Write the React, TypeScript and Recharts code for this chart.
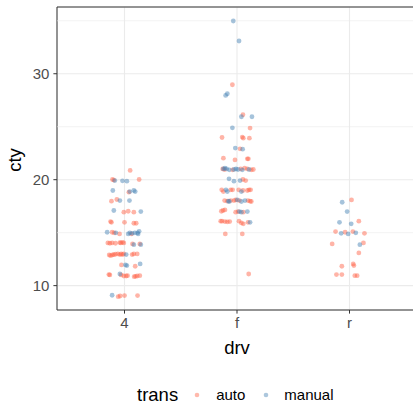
import React from "react";
import {
  ScatterChart,
  Scatter,
  XAxis,
  YAxis,
  CartesianGrid,
  ReferenceLine,
  ReferenceArea,
} from "recharts";

// categories of drv (x axis positions 1, 2, 3)
const drvLabels = ["4", "f", "r"];
const yTicks = [10, 20, 30];
const yMinor = [15, 25, 35];

// jittered points [x, cty]
const autoPoints: [number, number][] = [
  [1.05, 20.87], [0.893, 20.02], [0.905, 19.96], [1.13, 20.02], [1.039, 18.82],
  [0.884, 17.97], [0.932, 18.13], [0.994, 16.93], [1.033, 17.02], [1.083, 16.93],
  [0.876, 16.05], [0.884, 15.98], [1.0, 15.98], [1.083, 15.89], [1.104, 15.89],
  [0.89, 15.04], [0.908, 14.98], [0.956, 14.88], [1.062, 14.88],
  [0.852, 14.03], [0.87, 14.0], [0.89, 14.03], [0.92, 14.0],
  [0.959, 14.06], [0.967, 14.03], [0.982, 14.09], [0.994, 14.03],
  [1.071, 13.94], [1.136, 13.94],
  [0.864, 12.9], [0.876, 12.83], [0.893, 12.9], [0.905, 12.93], [0.92, 12.96],
  [0.941, 12.99], [0.959, 12.93], [0.97, 12.99], [0.982, 12.93], [0.994, 12.99],
  [1.068, 12.93], [1.083, 12.99], [1.113, 12.99],
  [0.973, 11.95], [1.095, 11.83],
  [0.861, 11.04], [0.87, 11.01], [0.97, 11.01],
  [0.994, 10.91], [1.015, 10.91], [1.027, 10.94],
  [1.086, 10.85], [1.098, 10.88], [1.113, 10.91], [1.136, 10.94],
  [0.944, 8.96], [0.961, 9.02], [1.0, 9.06], [1.116, 9.06],
  // f
  [1.959, 28.96], [2.053, 26.13], [2.116, 24.87], [1.867, 23.98],
  [2.047, 24.02], [2.056, 23.92], [2.11, 23.92], [2.027, 22.91],
  [1.879, 22.03], [1.982, 21.87], [2.092, 21.97], [2.101, 21.97],
  [1.873, 21.02], [1.89, 20.96], [1.961, 20.93], [2.033, 21.02],
  [2.068, 21.09], [2.092, 21.02], [2.127, 20.93], [2.145, 20.96],
  [2.053, 20.02], [2.077, 19.92],
  [1.864, 19.04], [1.879, 18.88], [1.944, 19.04], [1.961, 19.04],
  [2.015, 19.04], [2.053, 18.98], [2.092, 18.98], [2.107, 19.04], [2.121, 19.04],
  [1.89, 18.03], [1.914, 17.97], [1.944, 18.03],
  [1.973, 18.03], [1.988, 18.09], [2.021, 18.03], [2.098, 18.03], [2.116, 17.97], [2.127, 17.94],
  [1.861, 17.02], [1.876, 17.09], [1.893, 17.15],
  [1.988, 16.93], [2.009, 16.99], [2.056, 16.93],
  [1.855, 16.08], [1.867, 16.08], [1.893, 16.05], [1.914, 16.02], [1.935, 16.05],
  [2.018, 16.08], [2.039, 15.92], [2.056, 15.83], [2.098, 15.98],
  [1.896, 14.88], [2.047, 14.88], [2.104, 11.1],
  // r
  [3.018, 18.09], [3.083, 16.08],
  [2.876, 15.1], [2.961, 15.04], [3.03, 15.1], [3.133, 14.94],
  [2.846, 13.94], [3.124, 14.03], [3.083, 13.09],
  [2.932, 11.83], [3.033, 12.05], [3.039, 11.89],
  [2.884, 11.04], [2.932, 11.04], [3.047, 10.94], [3.068, 10.94],
];

const manualPoints: [number, number][] = [
  [0.914, 19.92], [0.982, 19.89], [1.021, 19.86], [0.896, 18.98], [1.047, 18.88],
  [1.083, 18.98], [1.095, 18.88], [0.959, 18.03], [1.044, 18.03], [0.905, 17.09],
  [1.145, 16.99], [0.846, 15.04], [0.923, 14.98],
  [1.033, 14.88], [1.047, 14.98], [1.068, 14.94], [1.092, 14.98],
  [1.116, 14.98], [1.121, 14.88], [1.13, 15.13],
  [1.083, 13.87], [1.145, 13.87], [1.015, 12.93],
  [1.009, 11.95], [1.021, 11.89], [1.139, 12.05], [0.959, 11.1], [0.89, 9.09],
  // f
  [1.967, 34.98], [2.018, 33.09], [1.899, 27.95], [1.914, 28.11],
  [2.039, 25.94], [2.133, 25.94], [1.959, 24.9], [1.985, 22.98], [2.05, 22.88],
  [1.879, 21.02], [1.893, 21.09], [1.908, 21.02], [1.932, 20.93],
  [1.973, 20.96], [1.991, 21.02], [2.009, 20.96], [2.047, 20.93], [2.107, 20.96],
  [1.929, 20.08], [1.973, 19.86], [2.027, 19.92],
  [1.902, 19.04], [1.914, 18.88], [2.039, 18.88],
  [1.923, 17.97], [1.932, 17.94], [2.003, 18.09], [2.039, 17.94], [2.071, 18.03],
  [2.021, 16.99], [2.039, 16.93], [2.092, 16.99], [2.116, 15.98],
  // r
  [2.935, 17.87], [2.979, 16.99], [2.911, 15.98], [3.015, 15.83],
  [2.926, 14.94], [2.988, 14.88], [3.056, 14.98], [3.092, 13.87],
];

const AUTO = "#FF6347";
const MANUAL = "#4682B4";
const FONT = "'Liberation Sans', Arial, sans-serif";

const autoData = autoPoints.map(([x, y]) => ({ x, y }));
const manualData = manualPoints.map(([x, y]) => ({ x, y }));

const dot = (color: string) => (props: any) => (
  <circle cx={props.cx} cy={props.cy} r={2.4} fill={color} fillOpacity={0.48} />
);

export default function App() {
  return (
    <div
      style={{
        position: "absolute",
        left: 0,
        top: 0,
        width: 413,
        height: 404,
        overflow: "hidden",
        background: "#fff",
        fontFamily: FONT,
      }}
    >
      <ScatterChart
        width={417}
        height={404}
        margin={{ top: 7, right: 0, left: 0, bottom: 54 }}
      >
        <CartesianGrid stroke="#EBEBEB" strokeWidth={1.1} />
        {yMinor.map((v) => (
          <ReferenceLine key={v} y={v} stroke="#EBEBEB" strokeWidth={0.6} />
        ))}
        <XAxis
          type="number"
          dataKey="x"
          domain={[0.4, 3.6]}
          ticks={[1, 2, 3]}
          allowDataOverflow
          tickFormatter={(v: number) => drvLabels[v - 1]}
          axisLine={false}
          tickLine={{ stroke: "#333333" }}
          tickSize={3.6}
          tickMargin={4}
          height={40}
          tick={{ fill: "#4D4D4D", fontSize: 15, fontFamily: FONT }}
        />
        <YAxis
          type="number"
          dataKey="y"
          domain={[7.7, 36.3]}
          ticks={yTicks}
          allowDataOverflow
          axisLine={false}
          tickLine={{ stroke: "#333333" }}
          tickSize={3.6}
          tickMargin={4}
          width={57}
          tick={{ fill: "#4D4D4D", fontSize: 15, fontFamily: FONT }}
        />
        <Scatter data={autoData} shape={dot(AUTO)} isAnimationActive={false} />
        <Scatter data={manualData} shape={dot(MANUAL)} isAnimationActive={false} />
        <ReferenceArea
          x1={0.4}
          x2={3.6}
          y1={7.7}
          y2={36.3}
          fill="none"
          fillOpacity={0}
          stroke="#333333"
          strokeWidth={1}
          ifOverflow="visible"
        />
      </ScatterChart>
      <div
        style={{
          position: "absolute",
          left: 15,
          top: 160,
          transform: "translate(-50%, -50%) rotate(-90deg)",
          fontSize: 18.5,
          color: "#000",
        }}
      >
        cty
      </div>
      <div
        style={{
          position: "absolute",
          left: 237,
          top: 348,
          transform: "translate(-50%, -50%)",
          fontSize: 18.5,
          color: "#000",
        }}
      >
        drv
      </div>
      <div
        style={{
          position: "absolute",
          left: 137,
          top: 387,
          height: 16,
          display: "flex",
          alignItems: "center",
          whiteSpace: "nowrap",
        }}
      >
        <span style={{ fontSize: 18.5, lineHeight: "16px", color: "#000" }}>trans</span>
        <svg width={16} height={16} style={{ marginLeft: 11 }}>
          <circle cx={8} cy={8} r={2.3} fill={AUTO} fillOpacity={0.45} />
        </svg>
        <span style={{ fontSize: 15, lineHeight: "16px", color: "#000", marginLeft: 11 }}>auto</span>
        <svg width={16} height={16} style={{ marginLeft: 13 }}>
          <circle cx={8} cy={8} r={2.3} fill={MANUAL} fillOpacity={0.45} />
        </svg>
        <span style={{ fontSize: 15, lineHeight: "16px", color: "#000", marginLeft: 10 }}>manual</span>
      </div>
    </div>
  );
}
